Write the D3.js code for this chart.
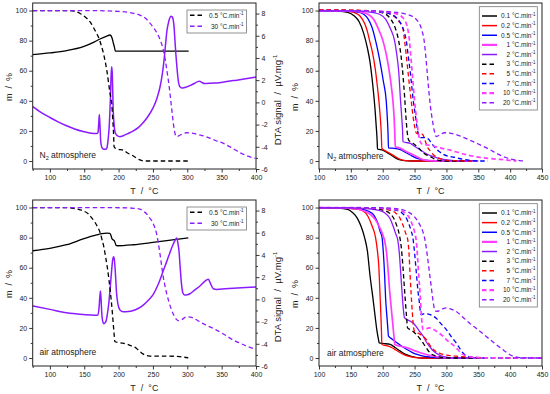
<!DOCTYPE html>
<html><head><meta charset="utf-8">
<script src="https://cdn.jsdelivr.net/npm/d3@7"></script>
<style>
body{margin:0;background:#fff}
svg{display:block}
text{font-family:"Liberation Sans",Arial,sans-serif;fill:#222}
</style>
</head><body>
<svg id="c" width="550" height="394"></svg>
<script>
// ---------- tick values ----------
const xTicksLeft = [100,150,200,250,300,350,400];
const xMinorLeft = [75,125,175,225,275,325,375];
const xTicksRight = [100,150,200,250,300,350,400,450];
const xMinorRight = [125,175,225,275,325,375,425];
const mTicks = [0,20,40,60,80,100];
const mMinor = [10,30,50,70,90];
const dtaTicks = [-6,-4,-2,0,2,4,6,8];
const dtaMinor = [-5,-3,-1,1,3,5,7];

// ---------- legend labels ----------
const dtaRateLabels = ["0.5","30"];
const rateLabels = ["0.1","0.2","0.5","1","2","3","5","7","10","20"];

// ---------- N2 atmosphere, TG + DTA (0.5 and 30 °C/min) ----------
const n2Tg05 = [[75,100],[125,100],[135,99.6],[144,98],[150,96.2],[154,94.7],[160,91.5],[163,89.1],[168,84.8],[170.5,82.5],[175,76.5],[178,71.5],[182.8,60.4],[187.6,44.9],[190,38],[191.5,28],[192.8,17],[193.4,9.5],[196,8.3],[200,7.8],[207,7.2],[213,5.3],[219,4],[226,2],[231,0.7],[238,0],[302,0]];
const n2Dta05 = [[75,4.3],[100,4.45],[124.5,4.66],[148.7,5.02],[165,5.45],[173,5.71],[182,5.95],[187.6,6.07],[190.5,5.8],[192.5,5.3],[193.8,5.02],[195.3,4.62],[302,4.62]];
const n2Tg30 = [[75,100],[150,100],[200,99.4],[220,98.3],[231,97],[240,94.5],[246,91.5],[251,88.5],[256,85],[261,80],[265,74],[268,67],[271,58],[273.5,50],[276,40],[278,32],[280,24],[282,18.5],[284,16.3],[288,16.8],[293,18],[299,18.8],[306,18.6],[315,17.6],[328,16.1],[340,13.8],[352.6,11.7],[365,8.7],[377,5.5],[388,3.3],[399,1.8]];
const n2Dta30 = [[75,-0.39],[87,-0.9],[100,-1.36],[112,-1.75],[124.3,-2.11],[136,-2.4],[148.5,-2.63],[160,-2.77],[168,-2.81],[170,-2.72],[171,-2.0],[172,-1.1],[173,-2.2],[174,-3.5],[176,-4.1],[178.5,-4.22],[181,-4.23],[183,-4.1],[185,-3.2],[186.5,-2.0],[188,0.2],[189.2,2.5],[190,3.2],[190.8,2.6],[192.2,-0.76],[193.5,-2.0],[195,-2.7],[198,-3.0],[202,-3.09],[206.8,-3.0],[214,-2.8],[221.4,-2.57],[229,-2.25],[235.9,-1.81],[243,-1.25],[250.5,-0.45],[256,0.4],[260.2,1.36],[263,2.3],[265,3.17],[267,4.3],[268.9,5.59],[270.5,6.5],[272.3,7.1],[274,7.5],[276.2,7.76],[278,7.7],[279.6,7.4],[281,6.6],[282,5.59],[283.3,4.4],[284.5,3.47],[286.9,1.96],[289.3,1.4],[292,1.3],[295,1.32],[300,1.42],[304,1.51],[310,1.7],[315,1.87],[318,1.9],[321,1.8],[325,1.7],[335,1.73],[342.7,1.75],[355,1.85],[367,1.96],[385,2.12],[400,2.27]];

// ---------- air atmosphere, TG + DTA ----------
const airTg05 = [[75,100],[124,100],[135,99.4],[143.7,98.5],[150,97.5],[155.8,95.8],[160,93.6],[165.5,90.3],[169,87.5],[172.8,83.7],[176,78.5],[178.6,73.7],[181,67.5],[183.5,60.5],[186,52],[188.3,42.8],[190.5,32.5],[192.2,23],[193.5,16],[194.7,10.8],[200,10.3],[206,9.9],[211.7,9.3],[219,8],[226.2,6.4],[231,4.3],[236,2.6],[240,1.7],[245.6,1.3],[270,1.3],[289,0.9],[301.5,0.1]];
const airDta05 = [[75,4.38],[100,4.59],[124.3,4.92],[148.5,5.44],[168,5.8],[176,5.92],[182.5,5.96],[187.4,5.95],[189.2,5.7],[190.5,5.44],[193.7,5.29],[195.5,5.0],[196.5,4.85],[198,4.83],[221.4,4.92],[250,5.13],[270,5.29],[301.5,5.53]];
const airTg30 = [[75,100],[150,100],[211.7,99.8],[222,99.5],[231,99],[236,97.5],[240.8,95.8],[244,93.8],[248,91.4],[252,87.5],[255.3,82.6],[258,76],[260.2,69.3],[262.5,62],[265,53.9],[267.5,48],[270,42.8],[273.5,37],[277.2,31.8],[281,28],[284.5,25.5],[288,24.7],[292,25.5],[299,27.4],[306.3,27],[312,25.8],[318.4,24],[330,21.3],[342.7,18.5],[355,15.3],[367,11.9],[377,9.8],[386.4,7.9],[400,5.7]];
const airDta30 = [[75,-0.6],[100,-0.9],[124.3,-1.21],[148.5,-1.36],[165,-1.42],[170,-1.4],[171.5,-0.8],[172.7,0.2],[173.6,0.76],[174.5,0.0],[175.5,-1.2],[177,-2.0],[178.6,-2.2],[180.5,-2.1],[182,-1.9],[184,-1.2],[186,-0.2],[188,1.2],[190,2.7],[191.5,3.6],[192.8,3.84],[194,3.5],[195.5,2.2],[197,0.6],[199,-0.4],[202,-0.95],[206.8,-1.12],[214,-1.1],[221.4,-1.0],[229,-0.8],[235.9,-0.51],[243,-0.1],[250.5,0.45],[258,1.4],[265,2.57],[270,3.4],[274.8,4.23],[279,4.9],[282,5.29],[284.5,5.53],[286.5,5.0],[287.9,4.38],[289.5,3.0],[291.7,1.3],[293.5,0.6],[296,0.4],[300,0.42],[304,0.51],[311,0.85],[318.4,1.21],[325,1.6],[330.6,1.81],[334,1.4],[337.9,0.95],[342.7,0.9],[355,0.95],[367,1.0],[385,1.07],[400,1.12]];

// ---------- N2 atmosphere, TG at 10 heating rates ----------
const n2R01 = [[100,100],[130,99.7],[145,98.8],[155,96.5],[163,92.5],[170,85],[176,75],[180,66],[183,56],[185.7,45],[188,34],[190,22],[191.2,14],[191.8,8],[200,7.2],[207,5.6],[213,4],[217,2.9],[222,1.6],[227.6,0.7],[235,0.2],[245,0],[300,0]];
const n2R02 = [[100,100],[140,99.7],[155,98.7],[164,96.5],[172,91],[176,86],[179.4,80],[184,72],[188,62],[191,52],[194,40],[196,30],[197.7,19],[198.7,8.4],[206.6,6.2],[213,4.7],[220,2.8],[227.6,1.1],[235,0.3],[245,0],[320,0]];
const n2R05 = [[100,100],[145,99.7],[160,99],[170,97.5],[177,94.5],[183,89],[188.8,80],[193,72],[197,63],[201,53],[205.5,40],[207.3,28],[208.4,18],[209,8.8],[220,8.3],[227.6,7.6],[235,5.9],[243.3,4],[251,2.3],[259,1.3],[270,0.5],[280,0.2],[295,0],[330,0]];
const n2R1 = [[100,100],[150,99.7],[165,99],[177,97.5],[186,94],[193,88],[200.3,80],[205,72],[209,63],[212.5,53],[216,40],[218,28],[219,18],[219.7,9.5],[226,8.8],[232.8,7.3],[240,5.6],[248.5,4],[256,2.3],[264.2,0.8],[275,0.2],[290,0],[340,0]];
const n2R2 = [[100,100],[160,99.7],[180,99],[195,97.5],[205,94],[212,88],[218.6,80],[222,71],[225,60],[228,40],[230,28],[231.2,20],[231.8,12.8],[237,12.3],[243.3,11.7],[251,9.5],[259,7.3],[270,4.5],[280,2.9],[290,1.6],[301,0.7],[315,0.1],[330,0],[350,0]];
const n2R3 = [[100,100.5],[130,100.4],[170,99.8],[190,99.3],[205,97.5],[213,94],[220,88],[225,80],[229,69],[232,56],[234.5,42],[236.5,29],[238.5,19],[240.7,13.9],[245,12.5],[251,10.6],[258,8],[264.3,5.1],[270,3.8],[274.8,2.9],[282,1.3],[290,0.3],[300,0],[330,0]];
const n2R5 = [[100,100.5],[150,100.3],[180,99.8],[200,99],[215,97],[225,93],[231.7,88],[234.3,80],[237,70],[239.5,60],[242,50],[244.7,40],[247.5,30],[250.5,22],[253,18.4],[258,18.5],[263,17.5],[267,13],[270,9.5],[275,6.5],[280,4],[288,1.9],[296,0.8],[310,0.2],[330,0],[345,0]];
const n2R7 = [[100,100],[160,99.8],[190,99.3],[210,98],[222,95],[230,90],[235,84],[237,80],[240,70],[243,60],[245.5,50],[248,40],[251,31],[254,22],[256.5,17],[260,15.5],[266,15.5],[272,14.5],[277,11.5],[282,9],[288,6.5],[295,4.5],[302,3.3],[312,2.5],[325,1.2],[340,0.3],[355,0],[365,0]];
const n2R10 = [[100,100],[170,99.8],[200,99.3],[220,98],[232,95],[238,90],[242,80],[244,70],[246,60],[248,50],[250,40],[252.5,30],[255.5,20],[258,14],[261,11.5],[266,11],[275,10.3],[285,9.3],[295,8.2],[306,7.2],[320,5.5],[335,3.8],[350,2.6],[365,1.8],[380,1.2],[390,0.9],[400,0.4],[410,0]];
const n2R20 = [[100,100],[180,99.8],[200,99.5],[221,98.8],[235,97.8],[247,96],[254,93.5],[258,91],[262,86],[265,80],[267.5,70],[270,58],[272.5,46],[275,36],[278,27],[281,20],[284,16.3],[290,17.5],[297,18.8],[305,18.6],[315,17.6],[325,16],[336,14],[350,11.3],[367,7.8],[380,4.8],[392,2.5],[405,1],[415,0.3],[423,0]];

// ---------- air atmosphere, TG at 10 heating rates ----------
const airR01 = [[100,100],[130,99.7],[145,98.8],[153,96.5],[160,93],[166,87.5],[171.6,80],[176,71],[180,55],[184.6,40],[188,28],[191,18],[193.5,12],[194.5,10.1],[200,9.7],[211.8,9],[220,6.8],[227.6,4.6],[235,2.6],[243.3,1.3],[252,0.4],[262,0],[300,0]];
const airR02 = [[100,100],[140,99.7],[160,99],[170,97.5],[177,94],[183,88],[188.8,80],[192,70],[194,60],[195,50],[196,40],[197,30],[198,18],[198.7,9],[206,8.2],[214,7],[220,5.5],[227.6,3.5],[235,1.9],[243,0.9],[252,0.3],[262,0],[320,0]];
const airR05 = [[100,100],[145,99.7],[165,99],[178,97.5],[186,95],[192,90],[196,84],[199,80],[201,70],[203,55],[204.5,40],[206.5,28],[208,20],[209,14.5],[215,12.5],[222.3,10.1],[230,7.8],[238,5.7],[246,3.8],[254,2.4],[262,1.5],[270,0.9],[285,0.2],[300,0],[340,0]];
const airR1 = [[100,100],[140,99.7],[160,99],[172,97.5],[182,95],[190,91],[196,86],[200,82],[203,78],[206,70],[208.5,58],[210.8,45],[213,35],[215.5,24],[217.5,15],[219,9],[228,7.8],[238,6.8],[248,5.2],[259,3.5],[270,2.2],[280,1.3],[292,0.5],[305,0],[350,0]];
const airR2 = [[100,100],[150,99.8],[175,99.3],[192,98.3],[203,96.5],[211,93],[216,88],[220,83],[223.8,78],[226,70],[228.5,55],[230.6,42],[232.5,32],[234,27],[237,25.8],[243,24.5],[248.5,23],[254,20],[259,17],[264.3,14],[268,11],[273,8],[280,4.5],[290,1.8],[300,0.6],[315,0],[360,0]];
const airR3 = [[100,100],[160,99.8],[185,99.3],[200,98.3],[210,96.5],[217,93],[222,88],[226,82],[229,74],[231.5,62],[233.5,50],[235.5,38],[237.5,27],[239,20],[245,18.5],[252,16],[260,12],[268,7],[274,3.5],[282,1.5],[292,0.5],[305,0],[360,0]];
const airR5 = [[100,100],[170,99.8],[195,99.3],[210,98.3],[220,96.5],[227,93],[232,88],[236,83],[239.5,78],[241.5,68],[243,55],[244.7,42],[246.5,30],[248.5,20],[250,17.8],[256,16.5],[262,14.8],[269,12],[274,8.5],[280,5.5],[289,3.2],[300,2],[315,1.2],[335,0.6],[360,0.2],[390,0],[450,0]];
const airR7 = [[100,100],[180,99.8],[205,99.3],[220,98.3],[230,96.5],[237,93],[242,88],[245,84],[247.3,80],[250,70],[252.5,58],[255.2,45],[257.5,37],[259,31],[260.4,28.8],[266,29.5],[272,29.2],[278.7,28],[285,26],[292,22.5],[299.6,19],[307,14.5],[315.3,10],[320,7],[325.7,3.5],[336,0.9],[350,0.3],[370,0.1],[400,0],[450,0]];
const airR10 = [[100,100],[185,99.8],[210,99.3],[225,98.3],[235,96.5],[242,93],[247,88],[250.5,83],[252.6,78],[254.5,68],[256.5,55],[258.8,42],[260.5,30],[262,22],[263,19],[268,19.5],[273.5,20],[280,19],[287,17],[294.4,14.5],[303,11],[312.6,7.9],[318,5.5],[325.7,2.4],[335,1],[346.6,0.3],[370,0.1],[400,0],[450,0]];
const airR20 = [[100,100],[190,99.9],[210,99.6],[231.7,98.5],[240,97],[247,95],[255,91],[260,87],[263,84],[267,77],[270,68],[273,58],[276,48],[279,38],[281,33],[284,31],[290,31.7],[296,33],[299.6,33.3],[305,32.8],[315,31],[325,27.5],[336,23.3],[349,19],[362,14.5],[375,10],[388,5.7],[396,3.2],[404,1.3],[412,0.5],[420,0.1],[450,0]];

// ---------- styles ----------
const BLACK="#000", RED="#ff0000", BLUE="#0000ff", MAG="#ff3cff", VIO="#8c1aff";
const rateColors = [BLACK,RED,BLUE,MAG,VIO,BLACK,RED,BLUE,MAG,VIO];
const rateDashed = [false,false,false,false,false,true,true,true,true,true];
const DASH = "4.5,3";

const svg = d3.select("#c");

function styleAxis(g){
  g.select(".domain").remove();
  g.selectAll(".tick line").attr("stroke","#222").attr("stroke-width",0.9);
  g.selectAll(".tick text").attr("font-size","7px").attr("fill","#222")
    .attr("font-family",'"Liberation Sans",Arial,sans-serif');
}

function sup(textSel, main, s){
  textSel.append("tspan").text(main);
  textSel.append("tspan").attr("font-size","4.5px").attr("dy","-2.6").text(s);
}

function drawPanel(oy, cfg){
  const g = svg.append("g").attr("transform",`translate(0,${oy})`);
  const x = d3.scaleLinear().domain(cfg.xDomain).range(cfg.xRange);
  const y = d3.scaleLinear().domain([-5.3,105]).range([169,3]);
  const yD = d3.scaleLinear().domain([-6,8.95]).range([169,3]);
  const fmt = d => String(d);

  // axes
  g.append("g").attr("transform","translate(0,169)")
    .call(d3.axisBottom(x).tickValues(cfg.xMajor).tickSize(3.5).tickSizeOuter(0).tickPadding(2.5).tickFormat(fmt)).call(styleAxis);
  g.append("g").attr("transform","translate(0,169)")
    .call(d3.axisBottom(x).tickValues(cfg.xMinor).tickSize(2).tickSizeOuter(0).tickFormat("")).call(styleAxis);
  g.append("g").attr("transform",`translate(${cfg.xRange[0]},0)`)
    .call(d3.axisLeft(y).tickValues(mTicks).tickSize(3.5).tickSizeOuter(0).tickPadding(2).tickFormat(fmt)).call(styleAxis);
  g.append("g").attr("transform",`translate(${cfg.xRange[0]},0)`)
    .call(d3.axisLeft(y).tickValues(mMinor).tickSize(2).tickSizeOuter(0).tickFormat("")).call(styleAxis);
  if(cfg.dta){
    g.append("g").attr("transform",`translate(${cfg.xRange[1]},0)`)
      .call(d3.axisRight(yD).tickValues(dtaTicks).tickSize(3.5).tickSizeOuter(0).tickPadding(2).tickFormat(fmt)).call(styleAxis);
    g.append("g").attr("transform",`translate(${cfg.xRange[1]},0)`)
      .call(d3.axisRight(yD).tickValues(dtaMinor).tickSize(2).tickSizeOuter(0).tickFormat("")).call(styleAxis);
  }

  // curves
  const lineM = d3.line().x(d=>x(d[0])).y(d=>y(d[1])).curve(d3.curveMonotoneX);
  const lineD = d3.line().x(d=>x(d[0])).y(d=>yD(d[1])).curve(d3.curveMonotoneX);
  cfg.curves.forEach(c=>{
    g.append("path").attr("d",(c.dta?lineD:lineM)(c.data))
      .attr("fill","none").attr("stroke",c.color).attr("stroke-width",c.w||1.3)
      .attr("stroke-dasharray",c.dashed?DASH:null).attr("stroke-linejoin","round");
  });

  // frame
  g.append("rect").attr("x",cfg.xRange[0]).attr("y",3)
    .attr("width",cfg.xRange[1]-cfg.xRange[0]).attr("height",166)
    .attr("fill","none").attr("stroke","#222").attr("stroke-width",1);

  // legend
  const L = cfg.legend;
  g.append("rect").attr("x",L.x).attr("y",L.y).attr("width",L.w).attr("height",L.h)
    .attr("fill","#fff").attr("stroke","#777").attr("stroke-width",0.8);
  L.items.forEach((it,i)=>{
    const ry = L.row0 + i*L.step;
    g.append("line").attr("x1",L.lx1).attr("x2",L.lx2).attr("y1",ry).attr("y2",ry)
      .attr("stroke",it.color).attr("stroke-width",it.w||1.4)
      .attr("stroke-dasharray",it.dashed?DASH:null);
    const t = g.append("text").attr("x",L.tx).attr("y",ry+2.3).attr("text-anchor","end")
      .attr("font-size","6.5px");
    sup(t, it.label+" \u00b0C.min", "-1");
  });

  // atmosphere label
  const a = g.append("text").attr("x",cfg.atmX).attr("y",cfg.atmY).attr("font-size","8.5px");
  if(cfg.n2){
    a.append("tspan").text("N");
    a.append("tspan").attr("font-size","5.5px").attr("dy","2").text("2");
    a.append("tspan").attr("dy","-2").text(" atmosphere");
  } else a.text("air atmosphere");

  // axis titles
  g.append("text").attr("x",(cfg.xRange[0]+cfg.xRange[1])/2).attr("y",194)
    .attr("text-anchor","middle").attr("font-size","9px")
    .text("T\u00a0\u00a0/\u00a0\u00a0\u00b0C");
  g.append("text").attr("transform",`translate(${cfg.mLabX},${cfg.mLabY}) rotate(-90)`)
    .attr("text-anchor","middle").attr("font-size","9px")
    .text("m\u00a0\u00a0/\u00a0\u00a0%");
  if(cfg.dtaLabX){
    const t = g.append("text").attr("transform",`translate(${cfg.dtaLabX},100) rotate(-90)`)
      .attr("text-anchor","middle").attr("font-size","9.5px");
    t.append("tspan").text("DTA signal\u00a0\u00a0/\u00a0\u00a0\u00b5V.mg");
    t.append("tspan").attr("font-size","6px").attr("dy","-3.5").text("-1");
  }
}

function leftCfg(n2, tg05, dta05, tg30, dta30){
  return {
    n2, xDomain:[75,400], xRange:[32.7,256], xMajor:xTicksLeft, xMinor:xMinorLeft, dta:true,
    curves:[
      {data:dta05,color:BLACK,dta:true,w:1.3},
      {data:dta30,color:VIO,dta:true,w:1.5},
      {data:tg05,color:BLACK,dashed:true,w:1.3},
      {data:tg30,color:VIO,dashed:true,w:1.3}
    ],
    legend:{x:187,y:10,w:59.5,h:23,row0:15.3,step:11,lx1:190,lx2:204,tx:243.5,
      items:[{label:dtaRateLabels[0],color:BLACK,dashed:true},{label:dtaRateLabels[1],color:VIO,dashed:true}]},
    atmX:39.5, atmY:157.5, mLabX:11.5, mLabY:87, dtaLabX:280.5
  };
}
function rightCfg(n2, arr){
  return {
    n2, xDomain:[100,450], xRange:[319,542], xMajor:xTicksRight, xMinor:xMinorRight, dta:false,
    curves: arr.map((d,i)=>({data:d,color:rateColors[i],dashed:rateDashed[i],w:(i===3||i===8)?1.7:1.3})),
    legend:{x:479.3,y:6.7,w:58,h:103.3,row0:16,step:9.63,lx1:482,lx2:497,tx:535.5,
      items: rateLabels.map((l,i)=>({label:l,color:rateColors[i],dashed:rateDashed[i],w:(i===3||i===8)?2.2:1.5}))},
    atmX:327, atmY:158.5, mLabX:297.5, mLabY:97, dtaLabX:null
  };
}

drawPanel(0, leftCfg(true, n2Tg05, n2Dta05, n2Tg30, n2Dta30));
drawPanel(0, rightCfg(true, [n2R01,n2R02,n2R05,n2R1,n2R2,n2R3,n2R5,n2R7,n2R10,n2R20]));
drawPanel(197, leftCfg(false, airTg05, airDta05, airTg30, airDta30));
drawPanel(197, rightCfg(false, [airR01,airR02,airR05,airR1,airR2,airR3,airR5,airR7,airR10,airR20]));
</script>
</body></html>
